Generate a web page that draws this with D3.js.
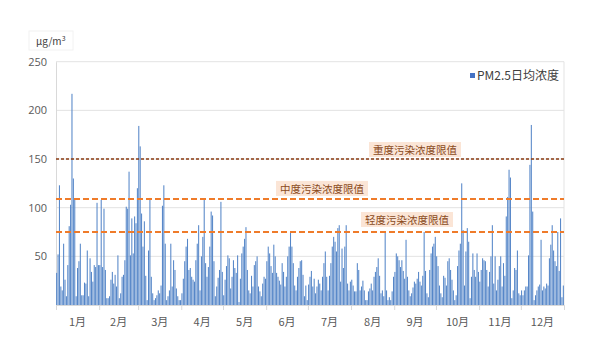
<!DOCTYPE html>
<html>
<head>
<meta charset="utf-8">
<script src="https://cdn.jsdelivr.net/npm/d3@7"></script>
<style>
  body { margin: 0; background: #fff; }
  text { font-family: "Noto Sans CJK SC", "Noto Sans", sans-serif; }
</style>
</head>
<body>
<div class="canvas"></div>
<script>
// daily PM2.5, one array per month (μg/m3)
const jan = [33,52,123,19,15,63,26,9,41,81,103,217,130,108,9,38,45,63,10,10,23,22,56,9,48,34,24,41,39,105,41];
const feb = [41,108,39,99,36,7,7,9,26,34,22,31,19,51,7,12,29,31,46,101,99,137,51,89,53,91,84,120];
const mar = [184,163,94,60,86,30,5,56,110,29,12,5,7,10,15,12,20,102,123,63,5,9,15,63,19,46,36,17,9,5,5];
const apr = [12,27,45,60,68,36,38,29,26,24,46,63,82,15,50,70,108,43,29,39,60,96,92,45,9,19,28,36,106,34];
const may = [10,26,40,51,48,17,29,46,38,33,51,3,27,53,60,68,80,36,15,12,30,19,41,45,50,19,14,9,22,29,27];
const jun = [45,60,53,40,33,62,50,33,29,25,21,43,34,19,29,50,60,75,60,43,20,15,29,38,45,46,31,9,20,5];
const jul = [21,29,35,19,27,12,19,26,22,15,29,43,55,29,15,30,43,60,70,65,55,79,82,24,58,38,60,82,22,15,24];
const aug = [26,20,14,14,43,36,15,19,25,15,5,5,14,17,22,15,29,34,39,48,30,12,15,9,74,15,5,8,5,14,29];
const sep = [34,53,50,46,39,46,35,27,67,29,15,9,12,18,24,22,27,34,24,20,30,75,35,12,8,36,53,60,63,70];
const oct = [50,40,20,12,8,30,28,20,45,48,36,26,15,5,10,40,56,63,125,77,20,55,79,65,7,29,53,36,29,53,34];
const nov = [24,36,48,46,45,36,19,34,50,82,22,50,15,26,40,50,19,43,30,91,111,139,131,7,15,38,36,56,12,10];
const dec = [15,10,15,19,19,51,144,185,96,5,10,15,19,21,67,15,19,17,22,20,48,62,82,56,45,40,75,35,89,8,20];

const monthNames = ['1月','2月','3月','4月','5月','6月','7月','8月','9月','10月','11月','12月'];
const yTicks = [50, 100, 150, 200, 250];
const limitValues = [150, 109, 75];
const limitNames = ['重度污染浓度限值', '中度污染浓度限值', '轻度污染浓度限值'];
const seriesName = 'PM2.5日均浓度';

const months = [jan, feb, mar, apr, may, jun, jul, aug, sep, oct, nov, dec];
const data = months.flat();

const dims = { width: 600, height: 364 };
const plot = { left: 56, right: 564, top: 61.7, bottom: 305 };

const svg = d3.select('.canvas')
  .append('svg')
  .attr('width', dims.width)
  .attr('height', dims.height);

const x = d3.scaleBand()
  .domain(d3.range(data.length))
  .range([plot.left, plot.right])
  .paddingInner(0.25)
  .paddingOuter(0.1);

// continuous day scale for month ticks
const xDay = d3.scaleLinear()
  .domain([0, data.length])
  .range([plot.left, plot.right]);

const y = d3.scaleLinear()
  .domain([0, 250])
  .range([plot.bottom, plot.top]);

// gridlines
svg.append('g')
  .selectAll('line')
  .data(yTicks)
  .join('line')
    .attr('x1', plot.left)
    .attr('x2', plot.right)
    .attr('y1', d => y(d))
    .attr('y2', d => y(d))
    .attr('stroke', '#e3e3e3')
    .attr('stroke-width', 1);

// right frame
svg.append('line')
  .attr('x1', plot.right).attr('x2', plot.right)
  .attr('y1', plot.top).attr('y2', plot.bottom)
  .attr('stroke', '#e3e3e3');

// y axis
const yAxis = d3.axisLeft(y).tickValues(yTicks).tickSize(0).tickPadding(9);
const yG = svg.append('g')
  .attr('transform', `translate(${plot.left},0)`)
  .call(yAxis);
yG.select('.domain').attr('stroke', '#d9d9d9');
yG.selectAll('text')
  .attr('fill', '#595959')
  .style('font-size', '11px')
  .style('font-family', '"Open Sans", "Noto Sans", sans-serif');

// unit label
const unitG = svg.append('g');
unitG.append('rect')
  .attr('x', 29).attr('y', 31)
  .attr('width', 44).attr('height', 19)
  .attr('fill', 'none')
  .attr('stroke', '#f2f2f2');
const unit = unitG.append('text')
  .attr('x', 36).attr('y', 45)
  .attr('fill', '#404040')
  .style('font-size', '10px');
unit.append('tspan').text('μg/m');
unit.append('tspan').attr('dy', -4).style('font-size', '7px').text('3');

// bars
svg.append('g')
  .selectAll('rect')
  .data(data)
  .join('rect')
    .attr('x', (d, i) => x(i))
    .attr('y', d => y(d))
    .attr('width', x.bandwidth())
    .attr('height', d => y(0) - y(d))
    .attr('fill', '#5586c8');

// x axis with month boundaries
const bounds = [0];
months.forEach(m => bounds.push(bounds[bounds.length - 1] + m.length));

const xAxis = d3.axisBottom(xDay).tickValues(bounds).tickSize(5).tickFormat('');
const xG = svg.append('g')
  .attr('transform', `translate(0,${plot.bottom})`)
  .call(xAxis);
xG.select('.domain').attr('stroke', '#d9d9d9');
xG.selectAll('.tick line').attr('stroke', '#d9d9d9');

svg.append('g')
  .selectAll('text')
  .data(monthNames)
  .join('text')
    .attr('x', (d, i) => xDay((bounds[i] + bounds[i + 1]) / 2))
    .attr('y', 326)
    .attr('text-anchor', 'middle')
    .attr('fill', '#595959')
    .style('font-size', '11px')
    .text(d => d);

// limit lines
const limitStyle = [
  { color: '#8a3b12', dash: '3,2', width: 1.5 },
  { color: '#ef7b2a', dash: '6,3', width: 2 },
  { color: '#ef7b2a', dash: '6,3', width: 2 }
];
svg.append('g')
  .selectAll('line')
  .data(limitValues)
  .join('line')
    .attr('x1', plot.left)
    .attr('x2', plot.right)
    .attr('y1', d => y(d))
    .attr('y2', d => y(d))
    .attr('stroke', (d, i) => limitStyle[i].color)
    .attr('stroke-width', (d, i) => limitStyle[i].width)
    .attr('stroke-dasharray', (d, i) => limitStyle[i].dash);

// limit labels (box centre x, y offset above line)
const labelPos = [
  { cx: 415, dy: -9 },
  { cx: 322, dy: -10 },
  { cx: 407, dy: -12 }
];
const labels = svg.append('g')
  .selectAll('g')
  .data(limitValues)
  .join('g')
    .attr('transform', (d, i) => `translate(${labelPos[i].cx},${y(d) + labelPos[i].dy})`);

labels.append('rect')
  .attr('x', -46).attr('y', -8)
  .attr('width', 92).attr('height', 15)
  .attr('fill', '#fbe5d6');

labels.append('text')
  .attr('text-anchor', 'middle')
  .attr('y', 4)
  .attr('fill', '#8a4a1c')
  .style('font-size', '10.5px')
  .text((d, i) => limitNames[i]);

// legend
const legend = svg.append('g').attr('transform', 'translate(470,73)');
legend.append('rect')
  .attr('width', 5).attr('height', 5)
  .attr('fill', '#4472c4');
legend.append('text')
  .attr('x', 7).attr('y', 6.5)
  .attr('fill', '#404040')
  .style('font-size', '12px')
  .text(seriesName);
</script>
</body>
</html>
